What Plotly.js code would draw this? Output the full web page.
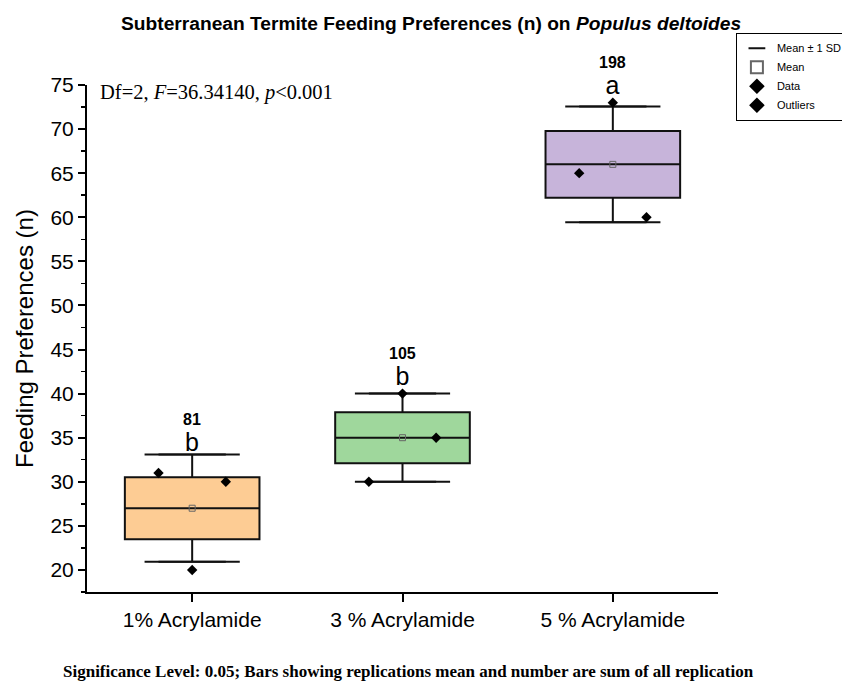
<!DOCTYPE html>
<html>
<head>
<meta charset="utf-8">
<script src="https://cdn.plot.ly/plotly-3.0.1.min.js"></script>
<style>html,body{margin:0;padding:0;background:#fff;}#chart{width:842px;height:681px;}</style>
</head>
<body>
<div id="chart"></div>
<script>
// ---- data ----
const categories = ["1% Acrylamide", "3 % Acrylamide", "5 % Acrylamide"];
const replicates = [[31, 20, 30], [30, 40, 35], [65, 73, 60]];
const letters = ["b", "b", "a"];
const boxColors = ["#fdcc94", "#9fd79c", "#c7b4da"];
const jitter = [-0.16, 0, 0.16];

// ---- stats derived from data ----
const idx = categories.map((_, i) => i);
const n = replicates.map(r => r.length);
const sums = replicates.map(r => r.reduce((a, b) => a + b, 0));
const means = replicates.map((r, i) => sums[i] / n[i]);
const sds = replicates.map((r, i) => Math.sqrt(r.reduce((a, v) => a + (v - means[i]) ** 2, 0) / (n[i] - 1)));
const ses = sds.map((s, i) => s / Math.sqrt(n[i]));
const lowSD = means.map((m, i) => m - sds[i]);
const highSD = means.map((m, i) => m + sds[i]);
const dataMax = replicates.map(r => Math.max(...r));

const traces = [];
idx.forEach(i => {
  traces.push({
    type: "box", x: [i], q1: [means[i] - ses[i]], median: [means[i]], q3: [means[i] + ses[i]],
    lowerfence: [lowSD[i]], upperfence: [highSD[i]],
    fillcolor: boxColors[i], line: {color: "#111", width: 2}, width: 0.64,
    showlegend: false, hoverinfo: "skip"
  });
});
// whisker caps
traces.push({
  type: "scatter", mode: "markers", name: "Mean ± 1 SD",
  x: idx.concat(idx), y: lowSD.concat(highSD),
  marker: {symbol: "line-ew", size: 68, color: "#111", line: {width: 2, color: "#111"}},
  showlegend: true
});
// mean squares
traces.push({
  type: "scatter", mode: "markers", name: "Mean", x: idx, y: means,
  marker: {symbol: "square-open", size: 6, color: "#666", line: {width: 1}}
});
// data points
const dx = [], dy = [];
replicates.forEach((r, i) => r.forEach((v, j) => { dx.push(i + jitter[j]); dy.push(v); }));
traces.push({
  type: "scatter", mode: "markers", name: "Data", x: dx, y: dy,
  marker: {symbol: "diamond", size: 8, color: "#000"}
});
traces.push({
  type: "scatter", mode: "markers", name: "Outliers", x: [null], y: [null],
  marker: {symbol: "diamond", size: 8, color: "#000"}
});

const annotations = [];
idx.forEach(i => {
  const topY = Math.max(highSD[i], dataMax[i] + 0.5);
  annotations.push({x: i, y: topY, xref: "x", yref: "y", showarrow: false,
    text: "<b><span style='font-size:16px'>" + sums[i] + "</span></b><br>" +
          "<span style='font-size:25px'>" + letters[i] + "</span>",
    yanchor: "bottom", yshift: -3, font: {family: "Arial", size: 20, color: "#000"}});
});
annotations.push({x: 0.017, y: 0.985, xref: "paper", yref: "paper", xanchor: "left", yanchor: "middle",
  showarrow: false, text: "Df=2, <i>F</i>=36.34140, <i>p</i><0.001",
  font: {family: "Liberation Serif, Times New Roman, serif", size: 20.5, color: "#000"}});
annotations.push({x: 0.51, y: -0.157, xref: "paper", yref: "paper", xanchor: "center", yanchor: "middle",
  showarrow: false, text: "<b>Significance Level: 0.05; Bars showing replications mean and number are sum of all replication</b>",
  font: {family: "Liberation Serif, Times New Roman, serif", size: 17, color: "#000"}});

const layout = {
  width: 842, height: 681,
  margin: {l: 87, r: 124, t: 85, b: 89},
  paper_bgcolor: "#fff", plot_bgcolor: "#fff",
  title: {text: "<b>Subterranean Termite Feeding Preferences (n) on <i>Populus deltoides</i></b>",
    x: 0.512, xanchor: "center", y: 0.966, yanchor: "middle",
    font: {family: "Arial", size: 19.2, color: "#000"}},
  showlegend: true,
  legend: {xref: "container", yref: "container", x: 0.874, y: 0.952, xanchor: "left", yanchor: "top",
    bordercolor: "#000", borderwidth: 1,
    bgcolor: "#fff", font: {family: "Arial", size: 11, color: "#000"}, itemsizing: "constant",
    tracegroupgap: 0, itemwidth: 30},
  xaxis: {range: [-0.5, 2.5], tickvals: idx, ticktext: categories, showgrid: false, zeroline: false,
    showline: true, linecolor: "#000", linewidth: 2, ticks: "outside", ticklen: 8, tickwidth: 2, tickcolor: "#000",
    tickfont: {family: "Arial", size: 21, color: "#000"}},
  yaxis: {range: [17.5, 75], dtick: 5, tick0: 0, showgrid: false, zeroline: false,
    showline: true, linecolor: "#000", linewidth: 2, ticks: "outside", ticklen: 7, tickwidth: 2, tickcolor: "#000",
    minor: {dtick: 2.5, ticks: "outside", ticklen: 4, tickwidth: 1.5, tickcolor: "#000", showgrid: false},
    tickfont: {family: "Arial", size: 21, color: "#000"},
    title: {text: "Feeding Preferences (n)", font: {family: "Arial", size: 24, color: "#000"}, standoff: 10}},
  annotations: annotations
};

Plotly.newPlot("chart", traces, layout, {displayModeBar: false, staticPlot: true});
</script>
</body>
</html>
